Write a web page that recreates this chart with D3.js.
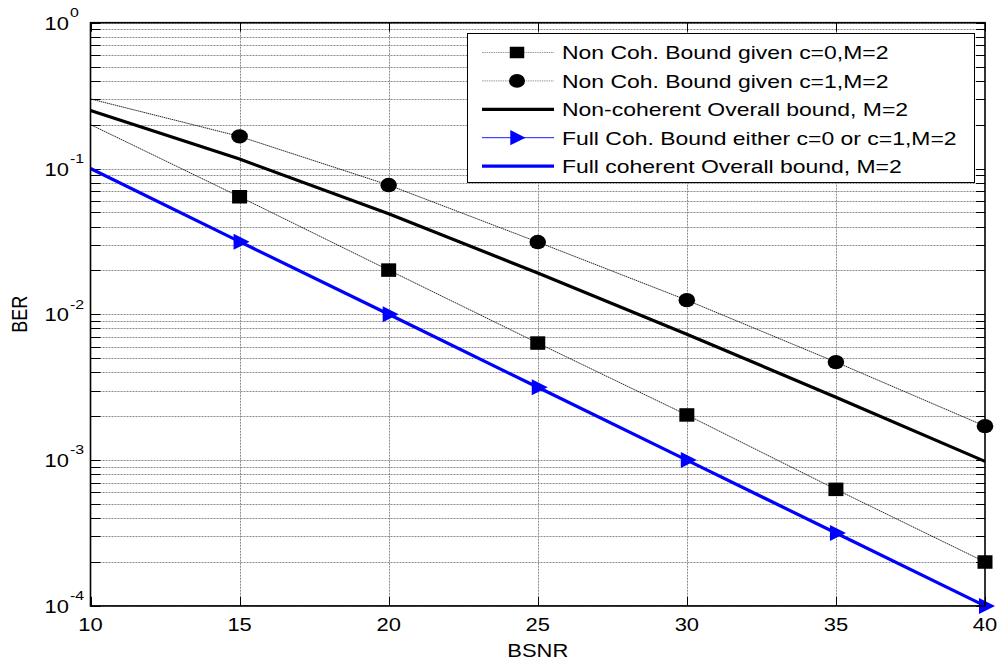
<!DOCTYPE html>
<html><head><meta charset="utf-8">
<script src="https://cdn.jsdelivr.net/npm/d3@7"></script>
<style>
body{margin:0;background:#fff}
svg{display:block}
text{font-family:"Liberation Sans",Arial,Helvetica,sans-serif;fill:#000}
</style>
</head><body>
<svg id="chart" width="1002" height="666"></svg>
<script>
// ---- data ----
const bsnr = [10, 15, 20, 25, 30, 35, 40];
const berNonCohC0 = [0.2, 0.064, 0.0201, 0.00635, 0.00204, 0.00063, 0.0002];
const berNonCohC1 = [0.30, 0.166, 0.077, 0.0313, 0.0125, 0.0047, 0.00171];
const berNonCohOverall = [0.25, 0.116, 0.049, 0.0192, 0.0073, 0.0027, 0.00098];
const berFullCohEither = [0.1, 0.0315, 0.01, 0.00316, 0.001, 0.000316, 0.0001];
const berFullCohOverall = [0.1, 0.0315, 0.01, 0.00316, 0.001, 0.000316, 0.0001];
const xTickValues = [10, 15, 20, 25, 30, 35, 40];
const yTickExponents = [-4, -3, -2, -1, 0];
const legendLabels = [
  "Non Coh. Bound given c=0,M=2",
  "Non Coh. Bound given c=1,M=2",
  "Non-coherent Overall bound, M=2",
  "Full Coh. Bound either c=0 or c=1,M=2",
  "Full coherent Overall bound, M=2"
];
const xLabel = "BSNR";
const yLabel = "BER";

// ---- layout ----
const L = 90.5, R = 985, T = 22.7, B = 605.9;
const SX = 1.22; // horizontal glyph stretch of the original
const svg = d3.select("#chart");
const x = d3.scaleLinear().domain([10, 40]).range([L, R]);
const y = d3.scaleLog().domain([1e-4, 1]).range([B, T]);

function txt(g, px, py, s, size, anchor, rot) {
  return g.append("text")
    .attr("transform", `translate(${px},${py}) scale(${SX},1)` + (rot ? ` rotate(${rot})` : ""))
    .attr("text-anchor", anchor || "start")
    .style("font-size", size + "px")
    .text(s);
}

// ---- grid ----
const grid = svg.append("g");
const yGrid = y.ticks();
grid.selectAll("line.hg").data(yGrid).enter().append("line")
  .attr("x1", L).attr("x2", R)
  .attr("y1", d => Math.round(y(d)) + 0.5).attr("y2", d => Math.round(y(d)) + 0.5)
  .attr("stroke", "#8c8c8c").attr("stroke-width", 1).attr("stroke-dasharray", "2,1");
grid.selectAll("line.vg").data(xTickValues.slice(1, -1)).enter().append("line")
  .attr("y1", T).attr("y2", B)
  .attr("x1", d => Math.round(x(d)) + 0.5).attr("x2", d => Math.round(x(d)) + 0.5)
  .attr("stroke", "#8c8c8c").attr("stroke-width", 1).attr("stroke-dasharray", "2,1");

// ---- ticks ----
const ticks = svg.append("g").attr("stroke", "#000").attr("stroke-width", 1);
yGrid.forEach(d => {
  const yy = Math.round(y(d)) + 0.5;
  ticks.append("line").attr("x1", L).attr("x2", L + 10).attr("y1", yy).attr("y2", yy);
  ticks.append("line").attr("x1", R - 9).attr("x2", R).attr("y1", yy).attr("y2", yy);
});
xTickValues.forEach(d => {
  const xx = Math.round(x(d)) + 0.5;
  ticks.append("line").attr("x1", xx).attr("x2", xx).attr("y1", T).attr("y2", T + 9);
  ticks.append("line").attr("x1", xx).attr("x2", xx).attr("y1", B - 9).attr("y2", B);
});

// ---- data lines ----
const line = vals => d3.line().x((d, i) => x(bsnr[i])).y(d => y(d))(vals);
const plot = svg.append("g");
plot.append("path").attr("d", line(berNonCohC0)).attr("fill", "none")
  .attr("stroke", "#111").attr("stroke-width", 0.9).attr("stroke-dasharray", "1.5,0.6");
plot.append("path").attr("d", line(berNonCohC1)).attr("fill", "none")
  .attr("stroke", "#111").attr("stroke-width", 0.9).attr("stroke-dasharray", "1.5,0.6");
plot.append("path").attr("d", line(berNonCohOverall)).attr("fill", "none")
  .attr("stroke", "#000").attr("stroke-width", 3.2);
plot.append("path").attr("d", line(berFullCohEither)).attr("fill", "none")
  .attr("stroke", "#0000ff").attr("stroke-width", 0.9);
plot.append("path").attr("d", line(berFullCohOverall)).attr("fill", "none")
  .attr("stroke", "#0000ff").attr("stroke-width", 3.2);

// ---- markers ----
function square(g, cx, cy, w, h) {
  g.append("rect").attr("x", cx - w / 2).attr("y", cy - h / 2).attr("width", w).attr("height", h).attr("fill", "#000");
}
function circle(g, cx, cy, rx, ry) {
  g.append("ellipse").attr("cx", cx).attr("cy", cy).attr("rx", rx).attr("ry", ry).attr("fill", "#000");
}
function tri(g, cx, cy, s) {
  g.append("path").attr("d", `M${cx - 6 * s},${cy - 8 * s}L${cx - 6 * s},${cy + 8 * s}L${cx + 10 * s},${cy}Z`).attr("fill", "#0000ff");
}
const mk = svg.append("g");
bsnr.forEach((b, i) => {
  if (i === 0) return;
  square(mk, x(b), y(berNonCohC0[i]), 15, 13.5);
  circle(mk, x(b), y(berNonCohC1[i]), 8.3, 7.2);
  tri(mk, x(b), y(berFullCohEither[i]), 1);
});

// ---- axes box ----
svg.append("rect").attr("x", L).attr("y", T).attr("width", R - L).attr("height", B - T)
  .attr("fill", "none").attr("stroke", "#000").attr("stroke-width", 1.6);

// ---- tick labels ----
const lab = svg.append("g");
xTickValues.forEach(d => txt(lab, x(d), 631, String(d), 18, "middle"));
yTickExponents.forEach(e => {
  const yy = y(Math.pow(10, e));
  txt(lab, 69, yy + 7, "10", 18, "end");
  txt(lab, 70, yy - 5.8, String(e), 13, "start");
});
txt(lab, (L + R) / 2, 657, xLabel, 18, "middle");
txt(lab, 27, (T + B) / 2, yLabel, 18, "middle", -90);

// ---- legend ----
const lg = svg.append("g");
lg.append("rect").attr("x", 467.5).attr("y", 33.5).attr("width", 507).attr("height", 149)
  .attr("fill", "#fff").attr("stroke", "#000").attr("stroke-width", 1);
const rowY = i => 52.5 + i * 28.4;
const lx1 = 482, lx2 = 554, lmx = 517;
const styles = [
  {stroke: "#999", w: 1, dash: "1.5,0.8", m: "sq"},
  {stroke: "#999", w: 1, dash: "1.5,0.8", m: "ci"},
  {stroke: "#000", w: 3.2, dash: null, m: null},
  {stroke: "#0000ff", w: 0.9, dash: null, m: "tr"},
  {stroke: "#0000ff", w: 3.2, dash: null, m: null}
];
legendLabels.forEach((s, i) => {
  const yy = rowY(i), st = styles[i];
  const ln = lg.append("line").attr("x1", lx1).attr("x2", lx2).attr("y1", yy).attr("y2", yy)
    .attr("stroke", st.stroke).attr("stroke-width", st.w);
  if (st.dash) ln.attr("stroke-dasharray", st.dash);
  if (st.m === "sq") square(lg, lmx, yy, 14.5, 11.5);
  if (st.m === "ci") circle(lg, lmx, yy, 8, 6.8);
  if (st.m === "tr") tri(lg, lmx - 1, yy, 0.95);
  txt(lg, 562, yy + 6.8, s, 18.8, "start");
});
</script>
</body></html>
